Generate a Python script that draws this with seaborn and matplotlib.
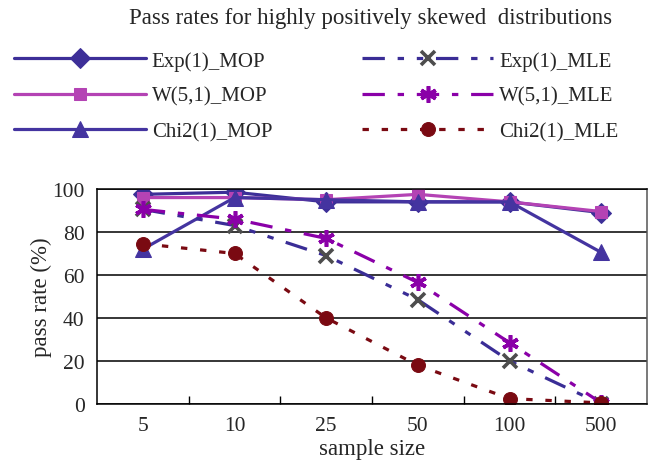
import matplotlib
matplotlib.use("Agg")
import matplotlib.pyplot as plt
from matplotlib.ticker import FixedLocator, NullFormatter
import seaborn as sns
import pandas as pd

# ---- data ----
sample_sizes = ["5", "10", "25", "50", "100", "500"]
exp_mop = [97.5, 98.5, 94, 94, 94, 89]
w_mop = [96, 96, 95, 97.5, 94, 89.5]
chi2_mop = [72, 96, 95, 94, 94, 70.5]
exp_mle = [90.5, 83, 69, 48.5, 20, 0]
w_mle = [90.5, 86, 77, 56.5, 28.5, 0.5]
chi2_mle = [74.5, 70, 40, 18, 2.5, 0.5]

series_names = ["Exp(1)_MOP", "W(5,1)_MOP", "Chi2(1)_MOP",
                "Exp(1)_MLE", "W(5,1)_MLE", "Chi2(1)_MLE"]
series_values = [exp_mop, w_mop, chi2_mop, exp_mle, w_mle, chi2_mle]

rows = []
for name, vals in zip(series_names, series_values):
    for i, v in enumerate(vals):
        rows.append({"series": name, "pos": i, "rate": v})
df = pd.DataFrame(rows)

# ---- styles ----
LW = 2.3
styles = {
    "Exp(1)_MOP": dict(color="#3D2F98", marker="D", markersize=10.5,
                       markerfacecolor="#3D2F98", markeredgecolor="#3D2F98",
                       linestyle="-", linewidth=LW),
    "W(5,1)_MOP": dict(color="#B443B4", marker="s", markersize=9,
                       markerfacecolor="#B443B4", markeredgecolor="#B443B4",
                       linestyle="-", linewidth=LW),
    "Chi2(1)_MOP": dict(color="#4434A0", marker="^", markersize=11,
                        markerfacecolor="#4434A0", markeredgecolor="#4434A0",
                        linestyle="-", linewidth=LW),
    "Exp(1)_MLE": dict(color="#3A2D96", marker="x", markersize=10,
                       markeredgewidth=2.6, markeredgecolor="#4D4D4D",
                       dashes=(7, 4, 2, 4, 2, 4), linewidth=LW),
    "W(5,1)_MLE": dict(color="#8A00A8", marker=(6, 2, 0), markersize=12,
                       markeredgewidth=2.6, markeredgecolor="#8A00A8",
                       dashes=(7, 4, 2, 4), linewidth=LW),
    "Chi2(1)_MLE": dict(color="#7A0A12", marker="o", markersize=10,
                        markerfacecolor="#7A0A12", markeredgecolor="#7A0A12",
                        dashes=(2, 4), linewidth=LW),
}

sns.set_style("white")
plt.rcParams["font.family"] = ["Liberation Serif", "DejaVu Serif"]

fig = plt.figure(figsize=(6.52, 4.64), dpi=100)
ax = fig.add_axes([0.1488, 0.1272, 0.8436, 0.4634])

for name in series_names:
    sub = df[df["series"] == name]
    sns.lineplot(data=sub, x="pos", y="rate", ax=ax, label=name,
                 legend=False, **styles[name])

ax.set_xlim(-0.5, 5.5)
ax.set_ylim(0, 100)
ax.set_yticks([0, 20, 40, 60, 80, 100])
ax.yaxis.grid(True, color="black", linewidth=1.1)
ax.set_axisbelow(True)
ax.set_xticks(range(len(sample_sizes)))
ax.set_xticklabels(sample_sizes)
ax.xaxis.set_minor_locator(FixedLocator([0.5, 1.5, 2.5, 3.5, 4.5]))
ax.xaxis.set_minor_formatter(NullFormatter())
ax.tick_params(axis="x", which="major", length=0, pad=9, labelsize=15.5)
ax.tick_params(axis="x", which="minor", direction="in", length=6,
               width=1.0, color="black", bottom=True)
ax.tick_params(axis="y", which="major", length=0, pad=9, labelsize=15.5)
for sp in ax.spines.values():
    sp.set_visible(True)
    sp.set_color("black")
    sp.set_linewidth(1.1)
ax.spines["right"].set_color("#555555")
ax.set_xlabel("sample size", fontsize=16.5, labelpad=2)
ax.set_ylabel("pass rate (%)", fontsize=16.5, labelpad=0)

fig.text(0.568, 0.96, "Pass rates for highly positively skewed  distributions",
         ha="center", va="center", fontsize=16.5)

handles, labels = ax.get_legend_handles_labels()
fig.legend(handles, labels, ncol=2, loc="upper left",
           bbox_to_anchor=(0.022, 0.888), frameon=False, fontsize=15,
           handlelength=6.3, handletextpad=0.3, columnspacing=4.3,
           labelspacing=0.75, borderpad=0.0, borderaxespad=0.0)

fig.savefig("out.png", dpi=100)
